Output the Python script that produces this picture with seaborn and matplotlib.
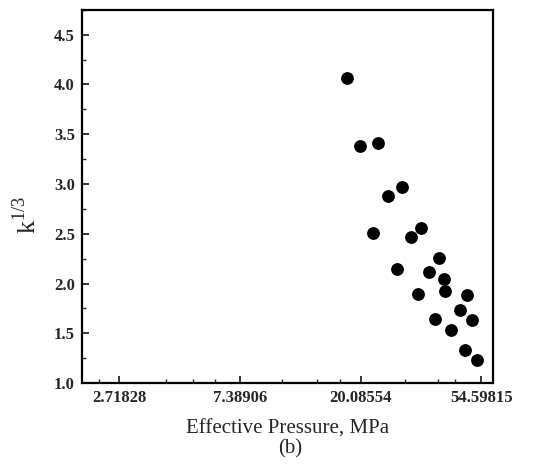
import numpy as np
import pandas as pd
import seaborn as sns
import matplotlib.pyplot as plt
from matplotlib.ticker import FixedLocator, FixedFormatter, MultipleLocator, NullFormatter

sns.set_style('ticks')
plt.rcParams['font.family'] = ['Liberation Serif', 'DejaVu Serif']
plt.rcParams['mathtext.fontset'] = 'custom'
plt.rcParams['mathtext.rm'] = 'Liberation Serif'

# effective pressure (MPa) and k^(1/3)
pressure = [17.96, 20.0, 23.2, 22.2, 25.2, 28.2, 27.2, 30.4, 33.2, 32.4, 35.5,
            38.3, 37.3, 40.3, 40.2, 42.5, 45.6, 48.6, 50.5, 47.8, 52.7]
k_third = [4.06, 3.38, 3.41, 2.51, 2.88, 2.97, 2.15, 2.47, 2.56, 1.89, 2.12,
           2.26, 1.64, 1.92, 2.05, 1.53, 1.73, 1.88, 1.63, 1.33, 1.23]

x_ticks = [np.e, np.e ** 2, np.e ** 3, np.e ** 4]
x_tick_labels = ['2.71828', '7.38906', '20.08554', '54.59815']
x_minor = [2.3, 4, 5, 6, 10.5, 14, 17, 29, 38, 44]

df = pd.DataFrame({'pressure': pressure, 'k': k_third})

fig = plt.figure(figsize=(5.35, 4.66), dpi=100)
ax = fig.add_axes([0.153, 0.178, 0.768, 0.801])

sns.scatterplot(data=df, x='pressure', y='k', color='black', s=85,
                edgecolor='black', linewidth=0, ax=ax, legend=False)

ax.set_xscale('log', base=np.e)
ax.set_xlim(2.0, 60.0)
ax.set_ylim(1.0, 4.75)

ax.xaxis.set_major_locator(FixedLocator(x_ticks))
ax.xaxis.set_major_formatter(FixedFormatter(x_tick_labels))
ax.xaxis.set_minor_locator(FixedLocator(x_minor))
ax.xaxis.set_minor_formatter(NullFormatter())
ax.yaxis.set_major_locator(MultipleLocator(0.5))
ax.yaxis.set_minor_locator(MultipleLocator(0.25))
ax.yaxis.set_major_formatter(plt.FormatStrFormatter('%.1f'))

ax.tick_params(which='major', direction='in', length=5, width=1.3,
               labelsize=12, top=False, right=False, pad=5)
ax.tick_params(which='minor', direction='in', length=3, width=1.0,
               top=False, right=False)
for lab in ax.get_xticklabels() + ax.get_yticklabels():
    lab.set_fontweight('bold')

for sp in ax.spines.values():
    sp.set_linewidth(1.6)
    sp.set_color('black')

ax.set_xlabel('Effective Pressure, MPa', fontsize=15, labelpad=10)
ax.set_ylabel(r'$\mathrm{k}^{1/3}$', fontsize=19)
ax.yaxis.set_label_coords(-0.10, 0.45)
fig.text(0.543, 0.036, '(b)', ha='center', va='center', fontsize=15)

fig.savefig('out.png', dpi=100)
